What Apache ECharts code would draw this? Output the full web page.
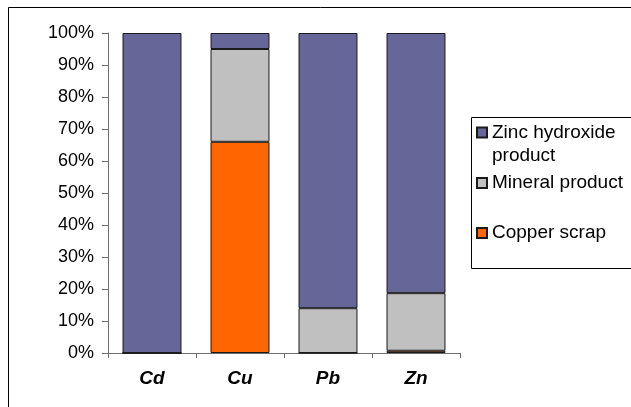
<!DOCTYPE html>
<html>
<head>
<meta charset="utf-8">
<script src="https://cdn.jsdelivr.net/npm/echarts@6/dist/echarts.min.js"></script>
<style>
  html, body { margin: 0; padding: 0; background: #fff; }
  #chart { width: 631px; height: 407px; }
</style>
</head>
<body>
<div id="chart"></div>
<script>
// Share of each metal recovered in each product (percent of total)
const metals = ['Cd', 'Cu', 'Pb', 'Zn'];
const copperScrap = [0, 66, 0, 0.7];
const mineralProduct = [0, 29, 14, 18];
const zincHydroxide = [100, 5, 86, 81.3];
const yTicks = { min: 0, max: 100, step: 10 };

const FONT = '"Liberation Sans", Arial, sans-serif';
const COLORS = { copper: '#FF6600', mineral: '#C0C0C0', zinc: '#666699' };
const AXIS_GREY = '#6e6e6e';

const chart = echarts.init(document.getElementById('chart'), null, { renderer: 'canvas' });

function barSeries(name, data, color) {
  return {
    name: name,
    type: 'bar',
    stack: 'total',
    data: data,
    barWidth: '67%',
    itemStyle: { color: color, borderColor: '#1a1a1a', borderWidth: 1 },
    emphasis: { disabled: true }
  };
}

// one legend block per entry so each marker sits on its first text line
function legendEntry(name, top, text) {
  return {
    orient: 'vertical',
    left: 476,
    top: top,
    padding: 0,
    itemWidth: 10,
    itemHeight: 10,
    icon: 'rect',
    data: [name],
    selectedMode: false,
    formatter: function () { return text; },
    textStyle: { fontFamily: FONT, fontSize: 19, color: '#000', lineHeight: 23 }
  };
}

chart.setOption({
  animation: false,
  backgroundColor: '#fff',
  graphic: [
    {
      type: 'rect',
      shape: { x: 8.5, y: 7.5, width: 700, height: 500 },
      style: { fill: 'none', stroke: '#000', lineWidth: 1 },
      silent: true
    },
    {
      type: 'rect',
      shape: { x: 471.5, y: 117.5, width: 300, height: 151 },
      style: { fill: 'none', stroke: '#000', lineWidth: 1 },
      silent: true
    }
  ],
  grid: { left: 108, right: 171, top: 33, bottom: 54 },
  legend: [
    legendEntry('Zinc hydroxide product', 98, '\u00a0\nZinc hydroxide\nproduct'),
    legendEntry('Mineral product', 171.5, 'Mineral product'),
    legendEntry('Copper scrap', 221.5, 'Copper scrap')
  ],
  xAxis: {
    type: 'category',
    data: metals,
    axisLine: { lineStyle: { color: AXIS_GREY, width: 1 } },
    axisTick: { show: true, length: 5, lineStyle: { color: AXIS_GREY } },
    axisLabel: {
      margin: 16,
      fontFamily: FONT,
      fontSize: 19,
      fontWeight: 'bold',
      fontStyle: 'italic',
      color: '#000'
    },
    splitLine: { show: false }
  },
  yAxis: {
    type: 'value',
    min: yTicks.min,
    max: yTicks.max,
    interval: yTicks.step,
    axisLine: { show: true, lineStyle: { color: AXIS_GREY, width: 1 } },
    axisTick: { show: true, length: 6, lineStyle: { color: AXIS_GREY } },
    axisLabel: {
      formatter: '{value}%',
      margin: 14,
      fontFamily: FONT,
      fontSize: 18,
      color: '#000'
    },
    splitLine: { show: false }
  },
  series: [
    barSeries('Copper scrap', copperScrap, COLORS.copper),
    barSeries('Mineral product', mineralProduct, COLORS.mineral),
    barSeries('Zinc hydroxide product', zincHydroxide, COLORS.zinc)
  ]
});
</script>
</body>
</html>
